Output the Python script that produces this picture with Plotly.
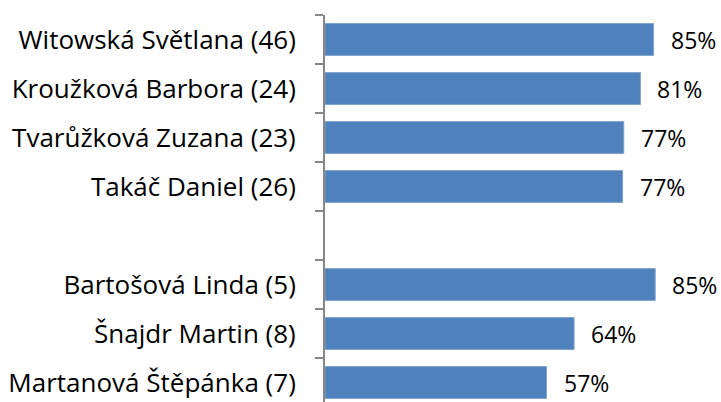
import plotly.graph_objects as go

# Categories top to bottom; the blank entry leaves an empty row between the two groups
names = [
    "Witowská Světlana (46)",
    "Kroužková Barbora (24)",
    "Tvarůžková Zuzana (23)",
    "Takáč Daniel (26)",
    " ",
    "Bartošová Linda (5)",
    "Šnajdr Martin (8)",
    "Martanová Štěpánka (7)",
]
shares = [0.847, 0.813, 0.770, 0.767, None, 0.851, 0.642, 0.571]

FONT = "Open Sans"
BAR_COLOR = "#4F81BD"
AXIS_COLOR = "#868686"

fig = go.Figure(
    go.Bar(
        x=shares,
        y=names,
        orientation="h",
        marker=dict(color=BAR_COLOR, line=dict(color="#7FA3CF", width=1)),
        hoverinfo="skip",
    )
)

# Percentage labels placed just right of each bar end
for name, val in zip(names, shares):
    if val is None:
        continue
    fig.add_annotation(
        x=val,
        y=name,
        text=f"{val:.0%}",
        showarrow=False,
        xanchor="left",
        yanchor="middle",
        xshift=15,
        font=dict(family=FONT, size=23, color="#000000"),
    )

fig.update_layout(
    width=721,
    height=402,
    margin=dict(l=325, r=0, t=15, b=0),
    paper_bgcolor="white",
    plot_bgcolor="white",
    bargap=0.35,
    showlegend=False,
    font=dict(family=FONT, size=26, color="#000000"),
)

fig.update_xaxes(
    range=[0, 396 / 388],
    visible=False,
    showgrid=False,
    zeroline=False,
)

fig.update_yaxes(
    type="category",
    categoryorder="array",
    categoryarray=names,
    range=[-0.5 + 387 / 49, -0.5],
    showline=True,
    linecolor=AXIS_COLOR,
    linewidth=2,
    ticks="outside",
    tickson="boundaries",
    ticklen=8,
    tickwidth=2,
    tickcolor=AXIS_COLOR,
    ticklabelstandoff=22,
    showgrid=False,
    zeroline=False,
    tickfont=dict(family=FONT, size=26, color="#000000"),
)

fig.write_html("out.html")
